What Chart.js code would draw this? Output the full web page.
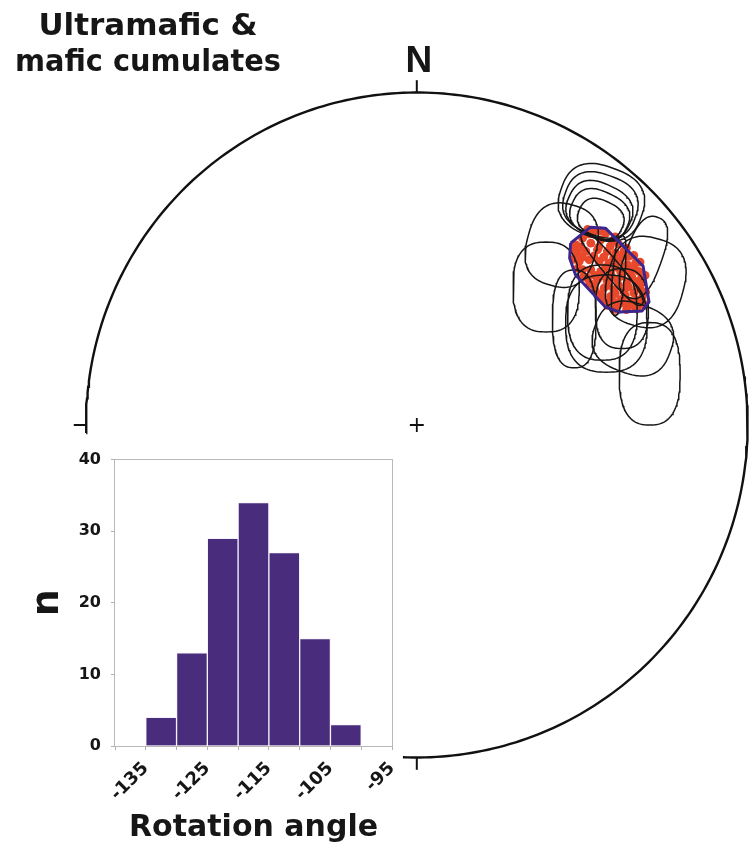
<!DOCTYPE html>
<html>
<head>
<meta charset="utf-8">
<script src="https://cdn.jsdelivr.net/npm/chart.js@4/dist/chart.umd.min.js"></script>
<style>
  html, body { margin: 0; padding: 0; background: #ffffff; }
  #wrap { position: relative; width: 752px; height: 849px; overflow: hidden; }
  #net { position: absolute; left: 0; top: 0; }
  #hist { position: absolute; left: 0; top: 440px; }
</style>
</head>
<body>
<div id="wrap">
  <canvas id="net" width="752" height="849"></canvas>
  <canvas id="hist" width="420" height="409"></canvas>
</div>
<script>
// ---- Rotation-angle histogram ----
const binStart = [-135, -130, -125, -120, -115, -110, -105];
const binCount = [4, 13, 29, 34, 27, 15, 3];
const binWidth = 5;
const xTickLabels = [-135, -125, -115, -105, -95];
const yTickValues = [0, 10, 20, 30, 40];

// ---- Equal-area net (primitive radius = 100 net units, x = east, y = north) ----
const netRadius = 100;

// site-mean directions plotted on the net
const siteMeans = [
  [53.6,58.2],[57.1,57.7],[50.1,56.2],[48.1,54.2],[52.6,54.7],[55.6,55.7],[59.1,55.2],[61.0,54.4],
  [48.6,51.7],[51.1,52.2],[54.6,52.7],[57.6,52.2],[60.1,51.7],[62.6,52.2],[64.1,50.7],
  [49.1,49.2],[52.1,49.7],[55.1,49.2],[58.1,48.7],[61.1,49.2],[63.6,48.2],[66.1,48.7],
  [50.1,46.7],[52.6,46.7],[55.6,46.2],[58.6,45.7],[61.6,46.2],[64.6,45.7],[67.1,46.2],
  [51.6,44.2],[54.6,43.7],[57.6,43.2],[60.6,43.7],[63.6,42.7],[66.6,43.2],[67.6,40.7],
  [53.6,41.7],[56.6,41.2],[59.6,40.7],[62.6,40.2],[65.6,39.7],[68.1,38.2],
  [55.6,39.2],[58.6,38.7],[61.6,37.7],[64.6,37.2],[67.1,36.2],
  [57.6,36.7],[60.6,35.9],[63.6,35.5],[66.1,35.2],[67.6,42.2],
  [52.0,57.5],[55.0,53.5],[58.5,53.8],[50.0,50.5],[53.5,50.8],[56.5,50.5],[59.5,50.2],[62.2,50.6],
  [57.0,47.3],[60.0,47.5],[63.0,47.0],[65.5,47.2],[53.8,45.0],[56.2,44.8],[59.0,44.5],[62.0,44.8],
  [65.0,44.5],[68.0,44.3],[58.0,42.0],[61.0,42.0],[64.0,41.5],[66.8,41.3],[60.0,39.5],[63.0,39.0],
  [66.5,37.5],[59.2,37.2],[62.2,36.8],[65.0,36.2],[68.5,36.5],
  [47.4,52.5],[49.5,53.6],[51.6,58.8],[55.5,58.4],[60.0,56.6],[63.4,53.2],[65.6,51.0],[67.5,49.0],
  [69.0,45.0],[69.2,40.0],[68.8,36.0],[66.5,34.9],[63.4,34.7],[60.0,34.8],[57.6,36.0],[56.0,38.0],
  [54.0,40.3],[52.3,42.6],[50.5,44.7],[48.7,47.2],[47.3,49.8]
];

// outline enclosing the site means
const meanEnvelope = [
  [46.5,54.7],[52.5,59.5],[57.0,59.2],[68.4,47.8],[70.2,37.0],
  [68.1,34.3],[61.2,34.0],[57.0,35.5],[48.0,45.1],[46.2,50.2]
];

// confidence regions: centre east, centre north, half-width, half-height, tilt (deg)
const confidenceLoops = [
  [55.8, 67.0, 12.8, 10.8, -20],
  [55.5, 66.2, 11.2,  9.2, -20],
  [55.2, 64.6, 10.0,  8.0, -25],
  [55.3, 63.2,  9.0,  7.0, -25],
  [55.6, 62.0,  7.0,  5.5, -25],
  [43.8, 54.1, 10.5, 12.5, -15],
  [39.1, 41.5, 10.0, 13.5,   0],
  [47.6, 31.9,  6.6, 14.7,   0],
  [57.3, 30.5, 12.3, 14.6,   0],
  [65.3, 26.0, 12.0, 10.5, -20],
  [70.4, 15.4,  9.2, 15.4,   0],
  [56.1, 33.8, 10.5, 14.3,   0],
  [62.0, 35.0,  8.0, 12.0,   0],
  [69.2, 43.0, 11.6, 13.5, -15],
  [68.5, 50.4,  5.5, 12.8, -20],
  [59.0, 47.0,  2.5, 14.0,  40],
  [61.0, 45.0,  1.8, 12.0,  -5]
];

const toPoint = p => ({ x: p[0], y: p[1] });

function loopOutline(loop) {
  const [cx, cy, a, b, tilt] = loop;
  const n = 2.6, pts = [];
  const r = tilt * Math.PI / 180, cr = Math.cos(r), sr = Math.sin(r);
  for (let i = 0; i <= 120; i++) {
    const t = i / 120 * 2 * Math.PI;
    const c = Math.cos(t), s = Math.sin(t);
    const px = a * Math.sign(c) * Math.pow(Math.abs(c), 2 / n);
    const py = b * Math.sign(s) * Math.pow(Math.abs(s), 2 / n);
    pts.push({ x: cx + px * cr - py * sr, y: cy + px * sr + py * cr });
  }
  return pts;
}

// primitive circle drawn from W, over N and E, round to just past S
function primitiveArc() {
  const pts = [];
  const at = az => {
    const r = az * Math.PI / 180;
    return { x: netRadius * Math.sin(r), y: netRadius * Math.cos(r) };
  };
  for (let az = 268.6; az < 542.4; az += 1) pts.push(at(az));
  pts.push(at(542.4));
  return pts;
}

const netDecor = {
  id: 'netDecor',
  afterDatasetsDraw(chart) {
    const { ctx, scales: { x, y } } = chart;
    const px = u => x.getPixelForValue(u), py = v => y.getPixelForValue(v);
    ctx.save();
    ctx.strokeStyle = '#111111';
    ctx.lineWidth = 2;
    ctx.lineCap = 'butt';
    const outer = netRadius * 1.037;
    [[0, 1], [-1, 0], [0, -1]].forEach(([dx, dy]) => {
      ctx.beginPath();
      ctx.moveTo(px(dx * netRadius), py(dy * netRadius));
      ctx.lineTo(px(dx * outer), py(dy * outer));
      ctx.stroke();
    });
    // centre cross
    const arm = 2.1;
    ctx.lineWidth = 1.8;
    ctx.beginPath();
    ctx.moveTo(px(-arm), py(0)); ctx.lineTo(px(arm), py(0));
    ctx.moveTo(px(0), py(-arm)); ctx.lineTo(px(0), py(arm));
    ctx.stroke();

    ctx.fillStyle = '#161616';
    ctx.textAlign = 'center';
    ctx.textBaseline = 'alphabetic';
    ctx.font = 'bold 37px "Liberation Sans", Arial, sans-serif';
    ctx.fillText('N', px(0) + 2, 72);
    ctx.font = 'bold 31px "DejaVu Sans", sans-serif';
    ctx.fillText('Ultramafic &', 148, 35);
    ctx.fillText('mafic cumulates', 148, 71, 266);
    ctx.restore();
  }
};

const netDatasets = [];
netDatasets.push({
  data: meanEnvelope.concat([meanEnvelope[0]]).map(toPoint),
  showLine: true, pointRadius: 0, borderColor: '#3a268c', borderWidth: 3,
  tension: 0, fill: false, order: 0, borderJoinStyle: 'round'
});
confidenceLoops.forEach(l => netDatasets.push({
  data: loopOutline(l), showLine: true, pointRadius: 0,
  borderColor: '#161616', borderWidth: 1.5, tension: 0, fill: false, order: 1
}));
netDatasets.push({
  data: siteMeans.map(toPoint), showLine: false, pointRadius: 4.4,
  pointBackgroundColor: '#e8482b', pointBorderWidth: 0, order: 2
});
netDatasets.push({
  data: primitiveArc(), showLine: true, pointRadius: 0, borderColor: '#111111',
  borderWidth: 2.4, tension: 0, fill: false, order: 3, clip: false
});

new Chart(document.getElementById('net'), {
  type: 'scatter',
  data: { datasets: netDatasets },
  options: {
    responsive: false, animation: false, events: [],
    layout: { padding: { left: 86, right: 1, top: 92.5, bottom: 91.5 } },
    plugins: { legend: { display: false }, tooltip: { enabled: false } },
    scales: {
      x: { type: 'linear', min: -netRadius, max: netRadius, display: false },
      y: { type: 'linear', min: -netRadius, max: netRadius, display: false }
    }
  },
  plugins: [netDecor]
});

// ---- histogram ----
const frame = {
  id: 'frame',
  beforeDatasetsDraw(chart) {
    const a = chart.chartArea, ctx = chart.ctx;
    ctx.save();
    ctx.strokeStyle = '#b8b8b8';
    ctx.lineWidth = 1;
    ctx.strokeRect(Math.round(a.left) - 0.5, Math.round(a.top) - 0.5,
                   Math.round(a.right - a.left) + 1, Math.round(a.bottom - a.top) + 1);
    ctx.restore();
  }
};

new Chart(document.getElementById('hist'), {
  type: 'bar',
  data: {
    datasets: [{
      data: binStart.map((s, i) => ({ x: s + binWidth / 2, y: binCount[i] })),
      backgroundColor: '#4a2c7c',
      borderColor: '#f4f2fa',
      borderWidth: 1,
      barPercentage: 1,
      categoryPercentage: 1
    }]
  },
  options: {
    responsive: false, animation: false, events: [],
    layout: { padding: { left: 0, top: 19, right: 28, bottom: 0 } },
    plugins: { legend: { display: false }, tooltip: { enabled: false } },
    scales: {
      x: {
        type: 'linear', min: -140, max: -95, offset: false,
        ticks: {
          stepSize: 5, autoSkip: false, maxRotation: 45, minRotation: 45,
          padding: 8, color: '#161616',
          font: { family: 'DejaVu Sans', weight: 'bold', size: 18 },
          callback: v => xTickLabels.includes(v) ? String(v) : ''
        },
        grid: { display: true, offset: false, drawOnChartArea: false, drawTicks: true, tickLength: 4, color: '#b0b0b0' },
        border: { display: false },
        title: {
          display: true, text: 'Rotation angle', color: '#161616',
          font: { family: 'DejaVu Sans', weight: 'bold', size: 30 },
          padding: { top: 0, bottom: 3 }
        },
        afterFit(scale) { scale.height = 103; }
      },
      y: {
        min: 0, max: 40,
        afterBuildTicks(scale) { scale.ticks = yTickValues.map(v => ({ value: v })); },
        ticks: { padding: 10, color: '#161616', font: { family: 'DejaVu Sans', weight: 'bold', size: 16 } },
        grid: { display: true, drawOnChartArea: false, drawTicks: true, tickLength: 4, color: '#b0b0b0' },
        border: { display: false },
        title: {
          display: true, text: 'n', color: '#161616',
          font: { family: 'DejaVu Sans', weight: 'bold', size: 38 },
          padding: { top: 25, bottom: 0 }
        },
        afterFit(scale) { scale.width = 115; }
      }
    }
  },
  plugins: [frame]
});
</script>
</body>
</html>
